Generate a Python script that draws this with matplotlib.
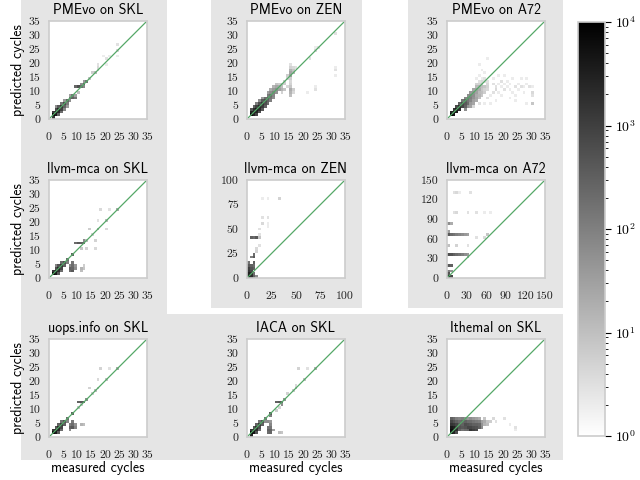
import matplotlib
matplotlib.use('Agg')
import matplotlib.pyplot as plt
from matplotlib.colors import LogNorm
from matplotlib.patches import Rectangle

plt.rcParams.update({
    'font.family': 'cmr10',
    'mathtext.fontset': 'cm',
    'axes.formatter.use_mathtext': True,
    'axes.unicode_minus': False,
})

# (measured, predicted, count) cells
pmevo_skl = [(1, 1, 9000), (1, 0, 1500), (2, 1, 4000), (2, 2, 6000), (1, 2, 1200), (3, 2, 2500),
             (3, 3, 3000), (2, 3, 700), (4, 3, 1000), (4, 4, 1500), (3, 4, 400), (5, 4, 300),
             (5, 5, 700), (4, 5, 150), (6, 5, 120), (6, 6, 300), (5, 6, 40), (7, 6, 60),
             (7, 7, 200), (8, 7, 300), (9, 7, 150), (8, 8, 150), (7, 8, 30), (10, 9, 10),
             (9, 11, 250), (10, 11, 600), (11, 11, 200), (12, 11, 80), (12, 12, 400), (11, 12, 60),
             (13, 13, 150), (12, 13, 40), (14, 14, 8), (15, 16, 6), (16, 16, 12), (17, 17, 5),
             (17, 18, 4), (17, 19, 3), (19, 22, 2), (20, 21, 3), (20, 19, 2), (21, 22, 2),
             (24, 24, 4), (24, 26, 3), (24, 22, 2), (3, 1, 300), (4, 2, 200), (5, 3, 80),
             (2, 4, 60), (6, 4, 40), (9, 8, 30)]

pmevo_zen = [(1, 1, 8000), (1, 2, 3000), (2, 1, 3000), (2, 2, 6000), (3, 2, 3000), (2, 3, 2000),
             (3, 3, 4000), (4, 3, 2000), (3, 4, 1000), (4, 4, 2500), (5, 4, 1200), (4, 5, 600),
             (5, 5, 1500), (6, 5, 600), (5, 6, 400), (6, 6, 700), (7, 6, 300), (6, 7, 200),
             (7, 7, 400), (8, 7, 150), (7, 8, 120), (8, 8, 200), (9, 8, 80), (8, 9, 60),
             (9, 9, 100), (10, 9, 50), (9, 10, 40), (10, 10, 60), (11, 10, 30), (10, 11, 25),
             (11, 11, 20), (12, 10, 15), (12, 11, 10), (13, 10, 8), (13, 12, 6), (8, 10, 20),
             (9, 11, 15), (10, 12, 8), (11, 12, 6), (7, 9, 30), (12, 9, 5), (14, 11, 4),
             (15, 8, 10), (15, 9, 15), (15, 10, 20), (15, 11, 8), (15, 12, 5), (15, 13, 4),
             (15, 14, 6), (15, 15, 30), (15, 16, 25), (15, 17, 15), (16, 16, 12), (16, 17, 8),
             (15, 18, 5), (16, 18, 4), (15, 19, 3), (14, 15, 6), (17, 18, 3), (16, 10, 6),
             (16, 9, 4), (21, 9, 2), (24, 10, 3), (24, 11, 2), (22, 21, 3), (24, 24, 4),
             (25, 25, 3), (24, 25, 2), (31, 15, 2), (31, 17, 3), (31, 18, 2), (31, 30, 3),
             (12, 12, 8), (13, 13, 6), (14, 14, 5), (3, 1, 800), (4, 2, 600), (1, 3, 500),
             (5, 3, 400), (6, 4, 300), (2, 4, 300), (7, 5, 200), (3, 5, 100), (8, 6, 100),
             (4, 6, 60), (9, 7, 60), (5, 7, 40)]

pmevo_a72 = [(1, 1, 9000), (2, 1, 5000), (1, 2, 3000), (2, 2, 7000), (3, 2, 4000), (3, 3, 4000),
             (2, 3, 1500), (4, 3, 2000), (4, 4, 2000), (3, 4, 700), (5, 4, 800), (5, 5, 700),
             (4, 5, 300), (6, 4, 300), (6, 5, 400), (6, 6, 300), (5, 6, 150), (7, 5, 200),
             (7, 6, 150), (7, 7, 150), (6, 7, 80), (8, 6, 80), (8, 7, 100), (8, 8, 80),
             (7, 8, 60), (9, 7, 50), (9, 8, 60), (9, 9, 50), (8, 9, 40), (10, 9, 30),
             (10, 10, 30), (9, 10, 25), (11, 10, 20), (11, 11, 15), (10, 11, 12), (12, 11, 10),
             (6, 3, 60), (7, 4, 50), (8, 4, 30), (8, 5, 40), (9, 5, 25), (9, 6, 30),
             (10, 6, 20), (10, 7, 25), (10, 8, 20), (11, 7, 10), (11, 8, 15), (11, 9, 12),
             (12, 8, 8), (12, 9, 10), (12, 10, 8), (13, 9, 6), (13, 10, 5), (13, 11, 8),
             (14, 10, 4), (14, 11, 5), (14, 12, 4), (12, 12, 6), (11, 12, 5), (12, 13, 4),
             (13, 13, 3), (10, 12, 5), (11, 13, 3), (13, 14, 3), (12, 14, 2), (10, 14, 2),
             (11, 15, 2), (14, 7, 3), (15, 8, 2), (16, 9, 3), (17, 10, 4), (17, 11, 3),
             (18, 12, 2), (19, 11, 2), (19, 13, 3), (20, 10, 3), (20, 12, 2), (21, 11, 2),
             (22, 12, 2), (23, 9, 2), (24, 11, 3), (25, 12, 2), (25, 10, 2), (26, 11, 3),
             (27, 9, 2), (28, 12, 2), (29, 11, 3), (30, 9, 4), (30, 5, 8), (28, 5, 2),
             (30, 8, 3), (30, 11, 2), (24, 6, 2), (22, 7, 2), (19, 8, 2), (17, 6, 2),
             (15, 5, 2), (13, 5, 2), (11, 5, 3), (9, 4, 4), (12, 17, 2), (11, 19, 2),
             (14, 21, 2), (13, 16, 2), (16, 14, 2), (18, 15, 2), (20, 15, 2), (23, 14, 2),
             (26, 14, 2), (28, 14, 2), (14, 13, 3), (16, 12, 3), (21, 13, 2), (18, 9, 2),
             (22, 10, 2), (24, 8, 2), (27, 11, 2)]

llvm_skl = [(1, 1, 8000), (2, 1, 4000), (1, 2, 1500), (2, 2, 5000), (3, 2, 2000), (3, 3, 2500),
            (2, 3, 600), (4, 3, 800), (4, 4, 1500), (3, 4, 500), (5, 4, 300), (5, 5, 600),
            (4, 5, 200), (6, 5, 100), (6, 6, 200), (7, 2, 200), (7, 3, 300), (8, 2, 400),
            (8, 3, 250), (8, 4, 200), (8, 5, 150), (7, 4, 80), (9, 3, 60), (9, 4, 40),
            (11, 2, 10), (11, 3, 15), (12, 3, 8), (12, 4, 6), (8, 8, 300), (9, 12, 200),
            (10, 12, 400), (11, 12, 300), (12, 12, 250), (12, 13, 60), (11, 10, 8), (13, 10, 5),
            (16, 10, 4), (16, 13, 5), (14, 17, 6), (17, 17, 15), (20, 17, 4), (17, 20, 3),
            (20, 20, 10), (18, 24, 4), (21, 24, 3), (24, 24, 20), (15, 15, 5), (13, 13, 10),
            (3, 1, 400), (4, 2, 200), (2, 4, 80)]

llvm_zen = [(2, 2, 6000), (5, 2, 2000), (2, 5, 3000), (5, 5, 2000), (2, 8, 1500), (5, 8, 800),
            (8, 2, 300), (2, 11, 1000), (5, 11, 500), (8, 11, 300), (2, 14, 400), (5, 14, 300),
            (8, 14, 200), (8, 17, 300), (8, 20, 400), (8, 23, 200), (5, 20, 100), (2, 17, 150),
            (8, 5, 200), (11, 2, 60), (11, 28, 5), (11, 31, 4), (14, 34, 3), (5, 42, 300),
            (8, 42, 200), (11, 42, 400), (14, 40, 8), (14, 45, 3), (14, 51, 3), (17, 57, 4),
            (20, 60, 3), (17, 62, 3), (20, 54, 2), (22, 57, 2), (17, 82, 2), (20, 82, 2),
            (34, 82, 5)]

llvm_a72 = [(3, 3, 3000), (7, 3, 800), (3, 18, 400), (7, 18, 300), (3, 35, 600), (7, 35, 500),
            (11, 35, 300), (16, 35, 200), (20, 35, 150), (24, 35, 100), (29, 35, 60), (33, 35, 40),
            (3, 50, 10), (16, 50, 5), (33, 50, 3), (3, 65, 400), (7, 65, 200), (11, 65, 150),
            (16, 65, 100), (20, 65, 80), (24, 65, 60), (29, 65, 40), (33, 65, 30), (46, 62, 3),
            (59, 62, 4), (63, 65, 8), (3, 70, 30), (3, 82, 60), (7, 82, 20), (11, 99, 3),
            (16, 99, 4), (33, 99, 3), (46, 99, 3), (59, 99, 2), (66, 99, 2), (11, 129, 3),
            (16, 129, 4), (20, 129, 2), (37, 129, 3), (3, 8, 500), (3, 12, 100), (7, 12, 50),
            (33, 32, 20)]

uops_skl = [(1, 1, 8000), (2, 1, 4000), (1, 2, 1500), (2, 2, 5000), (3, 2, 2500), (3, 3, 2500),
            (2, 3, 500), (4, 3, 800), (4, 4, 1200), (3, 4, 300), (5, 4, 300), (5, 5, 500),
            (4, 5, 150), (6, 5, 80), (6, 6, 200), (7, 3, 300), (8, 3, 400), (8, 4, 200),
            (7, 4, 100), (8, 5, 120), (9, 3, 80), (9, 4, 50), (7, 2, 60), (11, 4, 15),
            (12, 4, 10), (8, 8, 300), (10, 12, 300), (11, 12, 400), (12, 12, 300), (13, 13, 60),
            (10, 10, 8), (11, 11, 6), (14, 17, 5), (16, 16, 10), (17, 17, 8), (17, 20, 4),
            (20, 20, 8), (18, 24, 5), (21, 24, 3), (24, 24, 20), (15, 15, 6), (3, 1, 400),
            (4, 2, 200)]

iaca_skl = [(1, 1, 8000), (1, 0, 3000), (2, 1, 5000), (1, 2, 1500), (2, 2, 4000), (3, 2, 2000),
            (3, 3, 2000), (2, 3, 500), (4, 3, 600), (4, 4, 1200), (3, 4, 300), (5, 4, 300),
            (5, 5, 500), (4, 5, 150), (6, 5, 60), (6, 6, 150), (7, 1, 200), (7, 2, 300),
            (8, 1, 250), (8, 2, 300), (7, 3, 150), (8, 3, 150), (8, 4, 80), (7, 5, 60),
            (8, 5, 40), (9, 2, 30), (11, 1, 10), (12, 1, 8), (8, 8, 400), (8, 7, 100),
            (10, 12, 300), (11, 12, 400), (12, 12, 300), (12, 11, 60), (13, 13, 40), (10, 9, 6),
            (11, 10, 5), (14, 15, 5), (16, 16, 6), (17, 17, 10), (17, 18, 4), (20, 20, 8),
            (18, 24, 5), (21, 24, 3), (24, 24, 15), (3, 1, 500), (4, 2, 200)]

ithemal_skl = [(1, 1, 5000), (1, 2, 6000), (1, 3, 4000), (1, 4, 1500), (1, 5, 800), (1, 6, 300),
               (2, 1, 3000), (2, 2, 4000), (2, 3, 3000), (2, 4, 1200), (2, 5, 500), (2, 6, 200),
               (3, 1, 600), (3, 2, 2000), (3, 3, 1500), (3, 4, 800), (3, 5, 300), (3, 6, 100),
               (4, 2, 300), (4, 3, 500), (4, 4, 400), (4, 5, 200), (4, 6, 80),
               (5, 2, 150), (5, 3, 400), (5, 4, 300), (5, 5, 250), (5, 6, 100),
               (6, 2, 200), (6, 3, 500), (6, 4, 600), (6, 5, 300), (6, 6, 60),
               (7, 2, 250), (7, 3, 800), (7, 4, 500), (7, 5, 200), (7, 6, 40),
               (8, 2, 1500), (8, 3, 800), (8, 4, 400), (8, 5, 200), (8, 6, 60),
               (9, 2, 1000), (9, 3, 600), (9, 4, 300), (9, 5, 150), (9, 6, 40),
               (10, 2, 700), (10, 3, 500), (10, 4, 300), (10, 5, 120), (10, 6, 30),
               (11, 3, 300), (11, 4, 250), (11, 5, 100), (11, 6, 20),
               (12, 3, 60), (12, 4, 50), (12, 5, 30), (13, 4, 15), (13, 5, 20), (13, 6, 8),
               (14, 4, 10), (14, 5, 8), (15, 5, 6), (16, 6, 4), (17, 5, 3), (20, 6, 3),
               (22, 4, 2), (24, 3, 3), (24, 2, 2)]

titles = ['PMEvo on SKL', 'PMEvo on ZEN', 'PMEvo on A72',
          'llvm-mca on SKL', 'llvm-mca on ZEN', 'llvm-mca on A72',
          'uops.info on SKL', 'IACA on SKL', 'Ithemal on SKL']
datasets = [pmevo_skl, pmevo_zen, pmevo_a72, llvm_skl, llvm_zen, llvm_a72,
            uops_skl, iaca_skl, ithemal_skl]
ticks_35 = [0, 5, 10, 15, 20, 25, 30, 35]
ticks_100 = [0, 25, 50, 75, 100]
ticks_150 = [0, 30, 60, 90, 120, 150]
panel_ticks = [ticks_35, ticks_35, ticks_35, ticks_35, ticks_100, ticks_150,
               ticks_35, ticks_35, ticks_35]

fig = plt.figure(figsize=(6.4, 4.8), dpi=100)

# grey group backgrounds (pixel boxes)
bg = '#e5e5e5'
for x0, y0, x1, y1 in [(21, 0, 167, 460), (21, 314, 563, 460),
                       (211, 0, 362, 308), (408, 0, 563, 308)]:
    fig.add_artist(Rectangle((x0 / 640, 1 - y1 / 480), (x1 - x0) / 640, (y1 - y0) / 480,
                             transform=fig.transFigure, facecolor=bg, edgecolor='none',
                             zorder=-1))

col_left = [49, 247, 447]
row_top = [21, 180, 339]
size = 98
norm = LogNorm(1, 1e4)
mesh = None

for i, (title, data, ticks) in enumerate(zip(titles, datasets, panel_ticks)):
    r, c = divmod(i, 3)
    ax = fig.add_axes([col_left[c] / 640, 1 - (row_top[r] + size) / 480,
                       size / 640, size / 480])
    lim = ticks[-1]
    xs, ys, ns = zip(*data)
    _, _, _, mesh = ax.hist2d(xs, ys, bins=35, range=[[0, lim], [0, lim]],
                              weights=ns, cmap='binary', norm=norm, cmin=0.5)
    ax.plot([0, lim], [0, lim], color='#55a868', lw=0.9)
    ax.set_xlim(0, lim)
    ax.set_ylim(0, lim)
    ax.set_xticks(ticks, labels=[str(t) for t in ticks])
    ax.set_yticks(ticks, labels=[str(t) for t in ticks])
    ax.tick_params(axis='x', length=0, pad=9.5, labelsize=8.5, labelcolor='#222222')
    ax.tick_params(axis='y', length=0, pad=6, labelsize=8.5, labelcolor='#222222')
    for s in ax.spines.values():
        s.set_color('#cccccc')
        s.set_linewidth(1.2)
    ax.set_title(title, fontfamily='cmss10', fontsize=10, pad=5)
    if c == 0:
        ax.set_ylabel('predicted cycles', fontfamily='cmss10', fontsize=10, labelpad=3)
    if r == 2:
        ax.set_xlabel('measured cycles', fontfamily='cmss10', fontsize=10, labelpad=1)

cax = fig.add_axes([578 / 640, 1 - 436 / 480, 27 / 640, 414 / 480])
cb = fig.colorbar(mesh, cax=cax)
cb.outline.set_edgecolor('#cccccc')
cb.outline.set_linewidth(1.2)
cax.tick_params(which='major', length=4, width=0.8, labelsize=10)
cax.tick_params(which='minor', length=2.5, width=0.6)

fig.savefig('out.png', dpi=100)
